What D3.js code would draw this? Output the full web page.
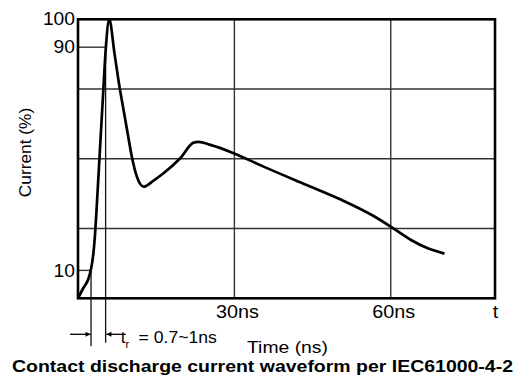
<!DOCTYPE html>
<html>
<head>
<meta charset="utf-8">
<script src="https://cdn.jsdelivr.net/npm/d3@7"></script>
<style>
  body { margin: 0; background: #fff; }
  text { font-family: Arial, "Liberation Sans", sans-serif; fill: #000; }
</style>
</head>
<body>
<svg id="chart" width="523" height="383"></svg>
<script>
// waveform (time in ns, current in % of peak)
const timeNs = [0, 1.0, 2.0, 2.5, 2.95, 3.27, 3.6, 4.23, 4.87, 5.35, 6.0, 7.0, 8.06, 8.4, 9.4, 10.33, 11.29, 12.6, 14.5, 16.4, 19.6, 22.17, 23.13, 25.4, 29.5, 35.6, 44, 50.4, 56.8, 60.3, 63.8, 67, 70.3];
const currentPct = [0, 3.6, 7, 10.5, 16, 23, 33, 54, 75, 90, 100, 87.8, 74.7, 71.1, 60.5, 50.75, 43.6, 40, 42.2, 44.8, 50.2, 55.8, 56.1, 55, 52.3, 47.2, 40.5, 35.4, 29.4, 25.3, 21, 18, 16];

const xTicks = [30, 60, 80];
const xTickLabels = ["30ns", "60ns", "t"];
const yTicks = [10, 90, 100];
const gridX = [30, 60];
const gridY = [25, 50, 75];
const riseStart = 2.5;   // 10% point
const riseEnd = 5.3;     // 90% point

const margin = {left: 78, top: 19.3, right: 28, bottom: 84.7};
const width = 523 - margin.left - margin.right;
const height = 383 - margin.top - margin.bottom;

// the source picture is a little wider than its fonts
function stretch(sel, k) {
  sel.each(function() {
    const w = this.getComputedTextLength();
    d3.select(this).attr("textLength", w * k).attr("lengthAdjust", "spacingAndGlyphs");
  });
}

const svg = d3.select("#chart");
const g = svg.append("g")
  .attr("transform", "translate(" + margin.left + "," + margin.top + ")");

const x = d3.scaleLinear().domain([0, 80]).range([0, width]);
const y = d3.scaleLinear().domain([0, 100]).range([height, 0]);

// grid
g.selectAll(".gx").data(gridX).enter().append("line")
  .attr("x1", d => x(d)).attr("x2", d => x(d))
  .attr("y1", 0).attr("y2", height)
  .attr("stroke", "#333").attr("stroke-width", 1.4);
g.selectAll(".gy").data(gridY).enter().append("line")
  .attr("x1", 0).attr("x2", width)
  .attr("y1", d => y(d)).attr("y2", d => y(d))
  .attr("stroke", "#333").attr("stroke-width", 1.4);

// 10% / 90% marks running to the curve
const levels = [[10, riseStart], [90, riseEnd]];
g.selectAll(".lvl").data(levels).enter().append("line")
  .attr("x1", 0).attr("x2", d => x(d[1]))
  .attr("y1", d => y(d[0])).attr("y2", d => y(d[0]))
  .attr("stroke", "#333").attr("stroke-width", 1.4);

// rise time drop lines
const dropEnd = [height + 48, height + 44.5];
g.selectAll(".drop").data(levels).enter().append("line")
  .attr("x1", d => x(d[1])).attr("x2", d => x(d[1]))
  .attr("y1", d => y(d[0])).attr("y2", (d, i) => dropEnd[i])
  .attr("stroke", "#111").attr("stroke-width", 1.3);

// frame
g.append("rect")
  .attr("width", width).attr("height", height)
  .attr("fill", "none").attr("stroke", "#000").attr("stroke-width", 2.6);

// curve
const pts = timeNs.map((t, i) => [t, currentPct[i]]);
g.append("path")
  .datum(pts)
  .attr("fill", "none")
  .attr("stroke", "#000")
  .attr("stroke-width", 2.7)
  .attr("stroke-linejoin", "round")
  .attr("d", d3.line().x(d => x(d[0])).y(d => y(d[1])).curve(d3.curveMonotoneX));

// axes labels
const yAxis = g.append("g")
  .call(d3.axisLeft(y).tickValues(yTicks).tickSize(0).tickPadding(3));
yAxis.select(".domain").remove();
yAxis.selectAll("text").attr("font-size", 17.5).attr("font-family", null).call(stretch, 1.1);

const xAxis = g.append("g")
  .attr("transform", "translate(0," + height + ")")
  .call(d3.axisBottom(x).tickValues(xTicks).tickSize(0).tickFormat((d, i) => xTickLabels[i]));
xAxis.select(".domain").remove();
xAxis.selectAll("text")
  .attr("font-size", 18).attr("font-family", null)
  .attr("dy", null).attr("y", 19.7)
  .attr("dx", (d, i) => i < 2 ? 2.5 : 0)
  .call(stretch, 1.1);

// arrows
const defs = svg.append("defs");
defs.append("marker")
  .attr("id", "arr")
  .attr("viewBox", "0 0 10 10")
  .attr("refX", 10).attr("refY", 5)
  .attr("markerWidth", 7).attr("markerHeight", 5)
  .attr("markerUnits", "userSpaceOnUse")
  .attr("orient", "auto")
  .append("path").attr("d", "M0,0L10,5L0,10Z").attr("fill", "#000");

const ay = height + 36;
g.append("line")
  .attr("x1", x(riseStart) - 21).attr("x2", x(riseStart) - 0.5)
  .attr("y1", ay).attr("y2", ay)
  .attr("stroke", "#000").attr("stroke-width", 1.3)
  .attr("marker-end", "url(#arr)");
g.append("line")
  .attr("x1", x(riseEnd) + 20).attr("x2", x(riseEnd) + 0.8)
  .attr("y1", ay).attr("y2", ay)
  .attr("stroke", "#000").attr("stroke-width", 1.3)
  .attr("marker-end", "url(#arr)");

const tx = x(riseEnd) + 15;
g.append("text").attr("x", tx).attr("y", height + 44.5).attr("font-size", 17).text("t");
g.append("text").attr("x", tx + 4.8).attr("y", height + 49.5).attr("font-size", 11).text("r");
g.append("text").attr("x", tx + 18).attr("y", height + 44.5).attr("font-size", 16.3)
  .text("= 0.7~1ns").call(stretch, 1.08);

// axis titles
svg.append("text")
  .attr("x", 287.5).attr("y", 353)
  .attr("text-anchor", "middle").attr("font-size", 17.3)
  .text("Time (ns)").call(stretch, 1.12);

svg.append("text")
  .attr("transform", "translate(31,152.5) rotate(-90)")
  .attr("text-anchor", "middle").attr("font-size", 17.3)
  .text("Current (%)");

svg.append("text")
  .attr("x", 262.5).attr("y", 371.5)
  .attr("text-anchor", "middle").attr("font-size", 17).attr("font-weight", "bold")
  .attr("textLength", 501).attr("lengthAdjust", "spacingAndGlyphs")
  .text("Contact discharge current waveform per IEC61000-4-2");
</script>
</body>
</html>
